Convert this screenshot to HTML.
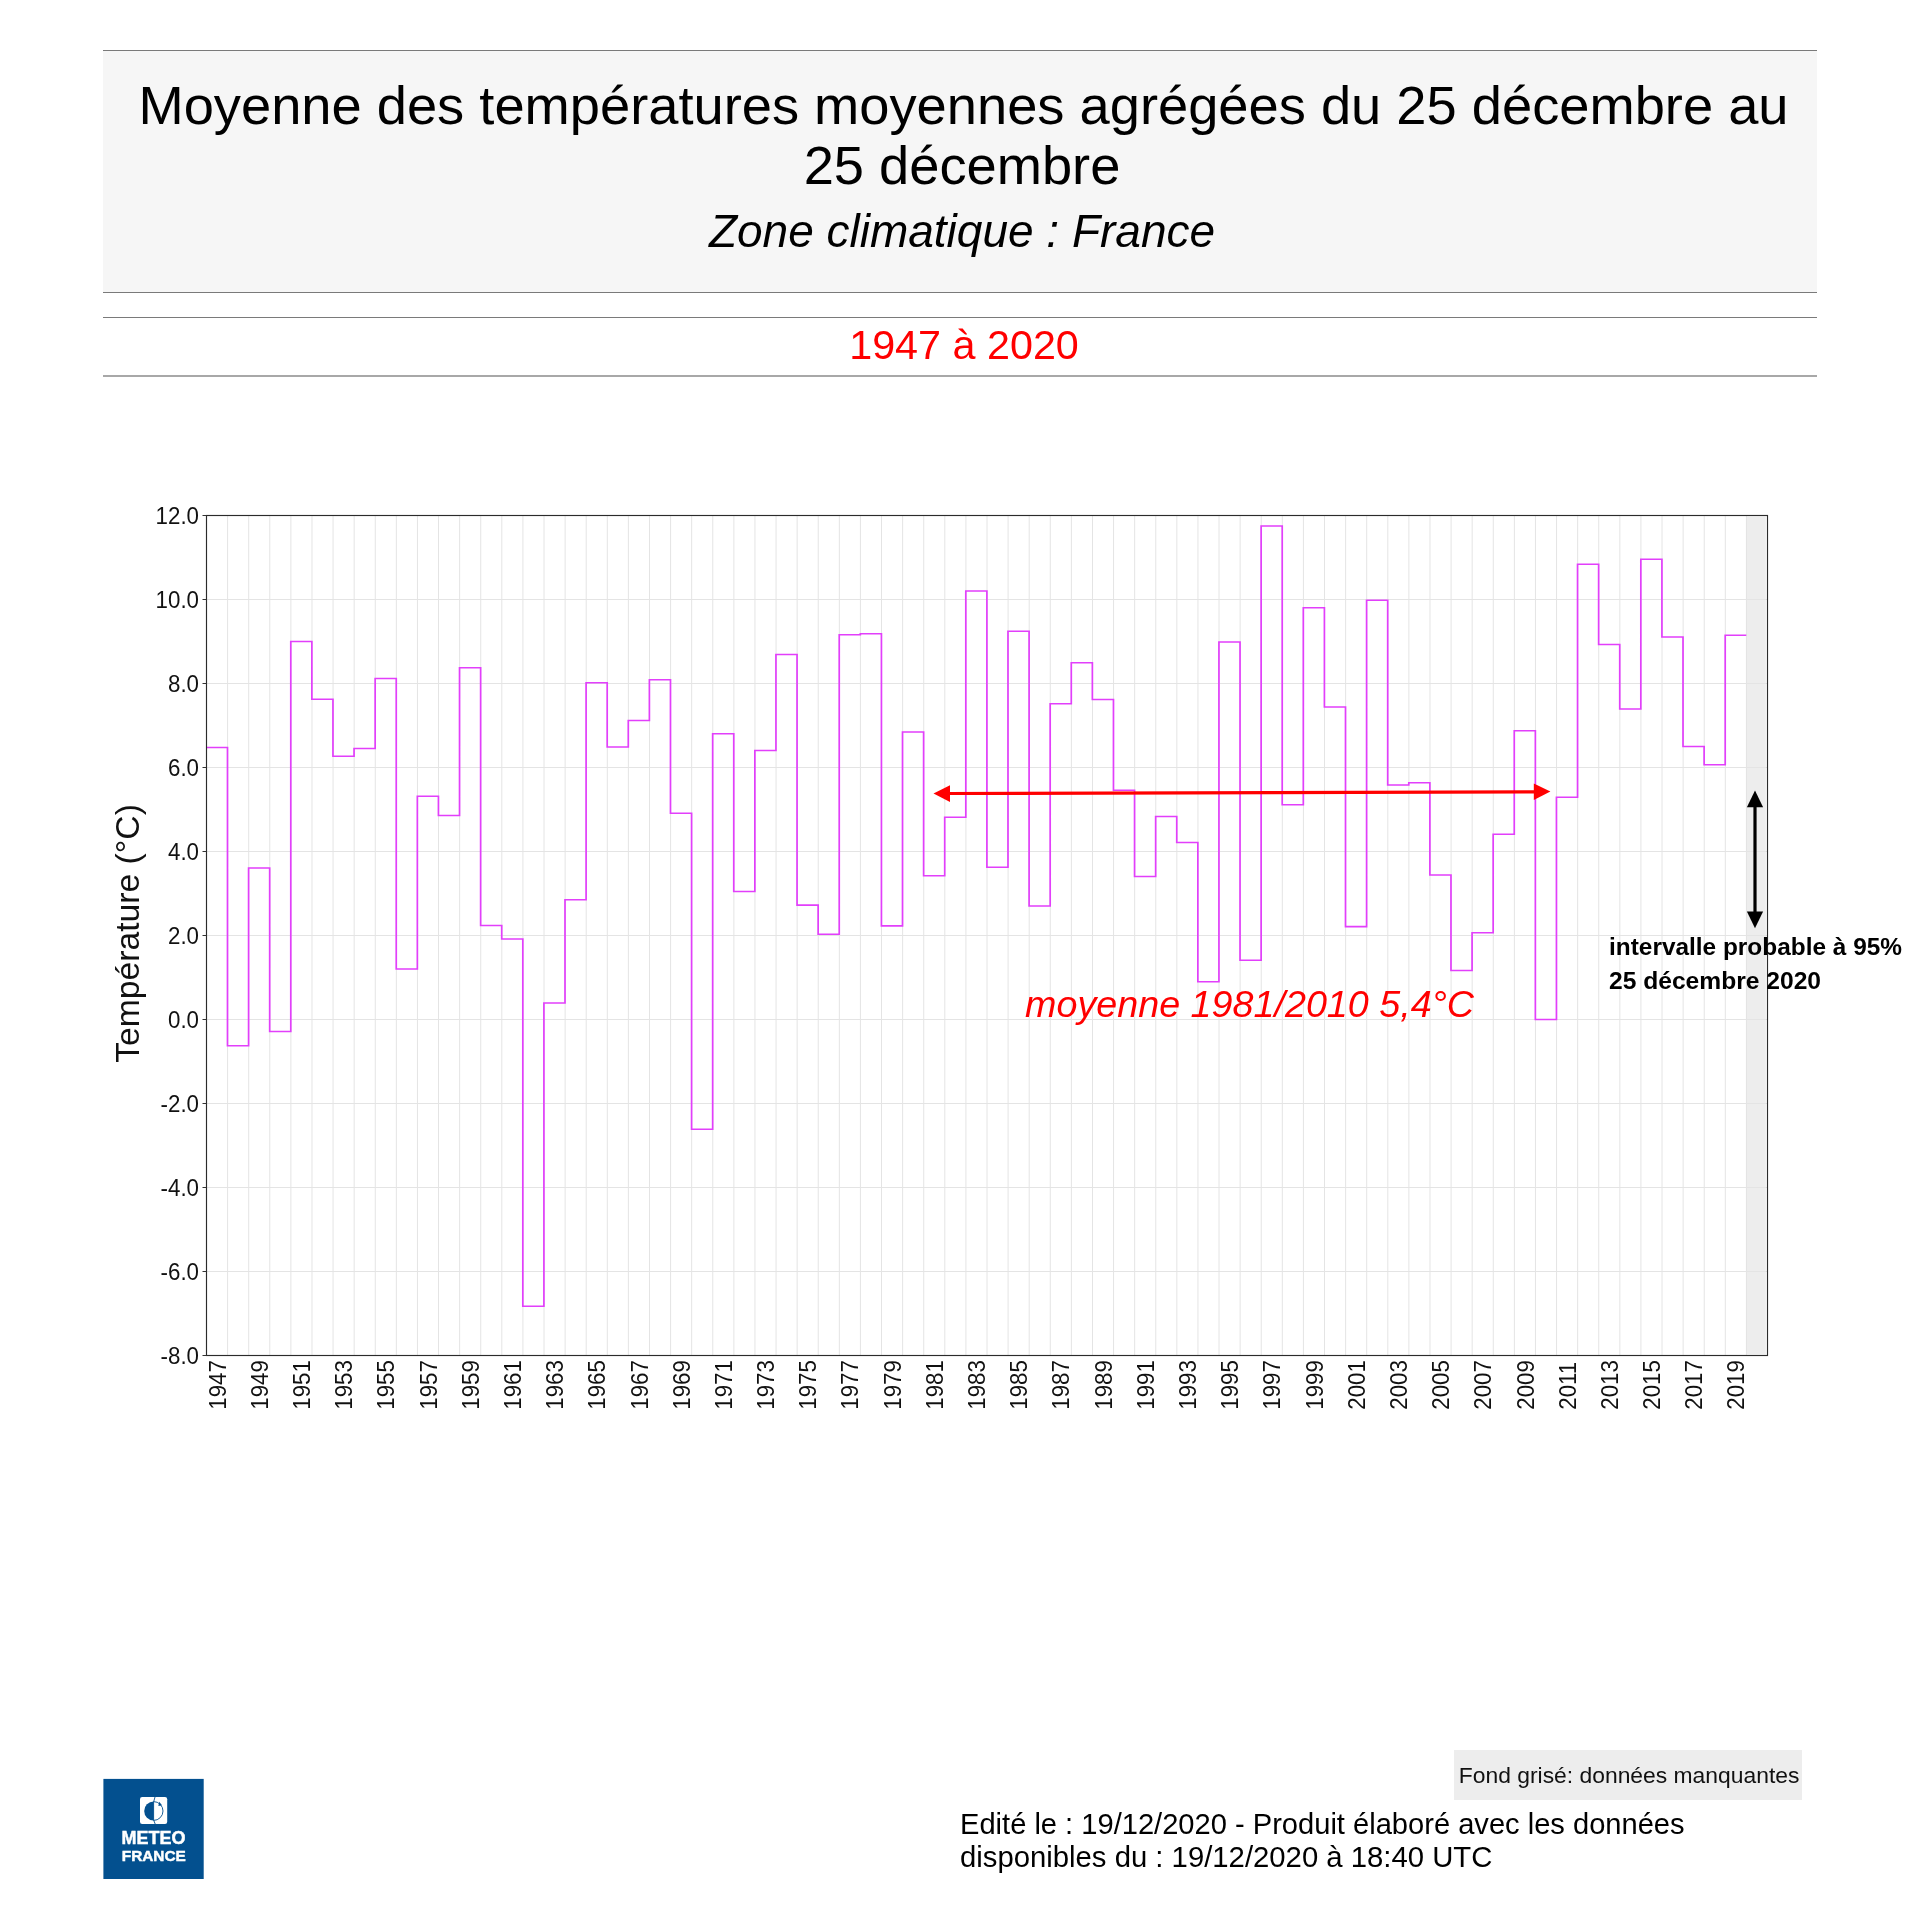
<!DOCTYPE html>
<html lang="fr"><head><meta charset="utf-8"><title>Moyenne des températures moyennes agrégées</title>
<style>
html,body{margin:0;padding:0;background:#fff;}
body{width:1920px;height:1920px;position:relative;overflow:hidden;font-family:"Liberation Sans",sans-serif;color:#000;}
.abs{position:absolute;white-space:nowrap;}
.hdr{position:absolute;left:103px;top:50px;width:1714px;height:241px;background:#f6f6f6;border-top:1px solid #7a7a7a;border-bottom:1px solid #7a7a7a;}
.t1{position:absolute;left:0;width:1714px;text-align:center;font-size:54.27px;line-height:61px;}
.sub{position:absolute;left:0;width:1714px;text-align:center;font-size:46px;font-style:italic;line-height:52px;}
.per{position:absolute;left:103px;top:317px;width:1714px;height:57px;border-top:1px solid #7a7a7a;border-bottom:2px solid #a8a8a8;}
.per div{position:absolute;left:0;width:1714px;text-align:center;color:#f00;font-size:41.3px;line-height:58px;top:-2px}
</style></head><body><div id="page" style="position:absolute;left:0;top:0;width:1920px;height:1920px;will-change:transform">
<div class="hdr">
<div class="t1" style="top:23.5px;left:3.5px">Moyenne des températures moyennes agrégées du 25 décembre au</div>
<div class="t1" style="top:84px;left:2px">25 décembre</div>
<div class="sub" style="top:154px;left:2px">Zone climatique : France</div>
</div>
<div class="per"><div style="left:4px">1947 à 2020</div></div>
<svg width="1920" height="1920" viewBox="0 0 1920 1920" style="position:absolute;left:0;top:0"><rect x="1746.1" y="516.6" width="19.7" height="837.8" fill="#ededed"/><path d="M227.59 515.5V1355.5M248.69 515.5V1355.5M269.78 515.5V1355.5M290.88 515.5V1355.5M311.97 515.5V1355.5M333.07 515.5V1355.5M354.16 515.5V1355.5M375.26 515.5V1355.5M396.35 515.5V1355.5M417.45 515.5V1355.5M438.54 515.5V1355.5M459.64 515.5V1355.5M480.73 515.5V1355.5M501.82 515.5V1355.5M522.92 515.5V1355.5M544.01 515.5V1355.5M565.11 515.5V1355.5M586.20 515.5V1355.5M607.30 515.5V1355.5M628.39 515.5V1355.5M649.49 515.5V1355.5M670.58 515.5V1355.5M691.68 515.5V1355.5M712.77 515.5V1355.5M733.86 515.5V1355.5M754.96 515.5V1355.5M776.05 515.5V1355.5M797.15 515.5V1355.5M818.24 515.5V1355.5M839.34 515.5V1355.5M860.43 515.5V1355.5M881.53 515.5V1355.5M902.62 515.5V1355.5M923.72 515.5V1355.5M944.81 515.5V1355.5M965.91 515.5V1355.5M987.00 515.5V1355.5M1008.09 515.5V1355.5M1029.19 515.5V1355.5M1050.28 515.5V1355.5M1071.38 515.5V1355.5M1092.47 515.5V1355.5M1113.57 515.5V1355.5M1134.66 515.5V1355.5M1155.76 515.5V1355.5M1176.85 515.5V1355.5M1197.95 515.5V1355.5M1219.04 515.5V1355.5M1240.14 515.5V1355.5M1261.23 515.5V1355.5M1282.32 515.5V1355.5M1303.42 515.5V1355.5M1324.51 515.5V1355.5M1345.61 515.5V1355.5M1366.70 515.5V1355.5M1387.80 515.5V1355.5M1408.89 515.5V1355.5M1429.99 515.5V1355.5M1451.08 515.5V1355.5M1472.18 515.5V1355.5M1493.27 515.5V1355.5M1514.36 515.5V1355.5M1535.46 515.5V1355.5M1556.55 515.5V1355.5M1577.65 515.5V1355.5M1598.74 515.5V1355.5M1619.84 515.5V1355.5M1640.93 515.5V1355.5M1662.03 515.5V1355.5M1683.12 515.5V1355.5M1704.22 515.5V1355.5M1725.31 515.5V1355.5M1746.41 515.5V1355.5M206.5 1271.50H1767.5M206.5 1187.50H1767.5M206.5 1103.50H1767.5M206.5 1019.50H1767.5M206.5 935.50H1767.5M206.5 851.50H1767.5M206.5 767.50H1767.5M206.5 683.50H1767.5M206.5 599.50H1767.5" stroke="#e4e4e4" stroke-width="1" fill="none"/><path d="M206.50 747.51H227.49V1045.75H248.59V868.01H269.68V1031.51H290.78V641.50H311.87V699.25H332.97V756.24H354.06V748.52H375.16V678.50H396.25V969.02H417.35V796.27H438.44V815.51H459.54V667.75H480.63V925.50H501.72V938.99H522.82V1306.23H543.91V1002.99H565.01V899.76H586.10V682.74H607.20V747.00H628.29V720.50H649.39V679.76H670.48V813.24H691.58V1129.25H712.67V733.73H733.76V891.48H754.86V750.49H775.95V654.52H797.05V905.13H818.14V934.24H839.24V634.74H860.33V633.73H881.43V925.88H902.52V732.01H923.62V875.73H944.71V817.27H965.81V591.02H986.90V867.25H1007.99V631.25H1029.09V906.02H1050.18V703.74H1071.28V662.75H1092.37V699.50H1113.47V790.26H1134.56V876.49H1155.66V816.51H1176.75V842.51H1197.85V981.74H1218.94V642.00H1240.04V960.24H1261.13V526.00H1282.22V804.75H1303.32V607.73H1324.41V707.02H1345.51V926.64H1366.60V600.26H1387.70V785.01H1408.79V782.75H1429.89V875.02H1450.98V970.49H1472.08V932.77H1493.17V834.24H1514.26V730.75H1535.36V1019.50H1556.45V797.24H1577.55V564.26H1598.64V644.48H1619.74V708.99H1640.83V559.26H1661.93V637.01H1683.02V746.50H1704.12V764.77H1725.21V635.24H1746.31" stroke="#e23ffb" stroke-width="1.7" fill="none" stroke-linejoin="miter"/><rect x="206.5" y="515.5" width="1561.0" height="840.0" fill="none" stroke="#2b2b2b" stroke-width="1.15"/><path d="M202.5 1355.50H206.5M202.5 1271.50H206.5M202.5 1187.50H206.5M202.5 1103.50H206.5M202.5 1019.50H206.5M202.5 935.50H206.5M202.5 851.50H206.5M202.5 767.50H206.5M202.5 683.50H206.5M202.5 599.50H206.5M202.5 515.50H206.5" stroke="#333" stroke-width="1" fill="none"/><text transform="translate(199,1363.90) scale(0.93,1)" text-anchor="end" font-family="Liberation Sans, sans-serif" font-size="24" fill="#111">-8.0</text><text transform="translate(199,1279.90) scale(0.93,1)" text-anchor="end" font-family="Liberation Sans, sans-serif" font-size="24" fill="#111">-6.0</text><text transform="translate(199,1195.90) scale(0.93,1)" text-anchor="end" font-family="Liberation Sans, sans-serif" font-size="24" fill="#111">-4.0</text><text transform="translate(199,1111.90) scale(0.93,1)" text-anchor="end" font-family="Liberation Sans, sans-serif" font-size="24" fill="#111">-2.0</text><text transform="translate(199,1027.90) scale(0.93,1)" text-anchor="end" font-family="Liberation Sans, sans-serif" font-size="24" fill="#111">0.0</text><text transform="translate(199,943.90) scale(0.93,1)" text-anchor="end" font-family="Liberation Sans, sans-serif" font-size="24" fill="#111">2.0</text><text transform="translate(199,859.90) scale(0.93,1)" text-anchor="end" font-family="Liberation Sans, sans-serif" font-size="24" fill="#111">4.0</text><text transform="translate(199,775.90) scale(0.93,1)" text-anchor="end" font-family="Liberation Sans, sans-serif" font-size="24" fill="#111">6.0</text><text transform="translate(199,691.90) scale(0.93,1)" text-anchor="end" font-family="Liberation Sans, sans-serif" font-size="24" fill="#111">8.0</text><text transform="translate(199,607.90) scale(0.93,1)" text-anchor="end" font-family="Liberation Sans, sans-serif" font-size="24" fill="#111">10.0</text><text transform="translate(199,523.90) scale(0.93,1)" text-anchor="end" font-family="Liberation Sans, sans-serif" font-size="24" fill="#111">12.0</text><text transform="translate(225.65,1409.7) rotate(-90) scale(0.93,1)" font-family="Liberation Sans, sans-serif" font-size="24" fill="#111">1947</text><text transform="translate(267.84,1409.7) rotate(-90) scale(0.93,1)" font-family="Liberation Sans, sans-serif" font-size="24" fill="#111">1949</text><text transform="translate(310.03,1409.7) rotate(-90) scale(0.93,1)" font-family="Liberation Sans, sans-serif" font-size="24" fill="#111">1951</text><text transform="translate(352.21,1409.7) rotate(-90) scale(0.93,1)" font-family="Liberation Sans, sans-serif" font-size="24" fill="#111">1953</text><text transform="translate(394.40,1409.7) rotate(-90) scale(0.93,1)" font-family="Liberation Sans, sans-serif" font-size="24" fill="#111">1955</text><text transform="translate(436.59,1409.7) rotate(-90) scale(0.93,1)" font-family="Liberation Sans, sans-serif" font-size="24" fill="#111">1957</text><text transform="translate(478.78,1409.7) rotate(-90) scale(0.93,1)" font-family="Liberation Sans, sans-serif" font-size="24" fill="#111">1959</text><text transform="translate(520.97,1409.7) rotate(-90) scale(0.93,1)" font-family="Liberation Sans, sans-serif" font-size="24" fill="#111">1961</text><text transform="translate(563.16,1409.7) rotate(-90) scale(0.93,1)" font-family="Liberation Sans, sans-serif" font-size="24" fill="#111">1963</text><text transform="translate(605.35,1409.7) rotate(-90) scale(0.93,1)" font-family="Liberation Sans, sans-serif" font-size="24" fill="#111">1965</text><text transform="translate(647.54,1409.7) rotate(-90) scale(0.93,1)" font-family="Liberation Sans, sans-serif" font-size="24" fill="#111">1967</text><text transform="translate(689.73,1409.7) rotate(-90) scale(0.93,1)" font-family="Liberation Sans, sans-serif" font-size="24" fill="#111">1969</text><text transform="translate(731.92,1409.7) rotate(-90) scale(0.93,1)" font-family="Liberation Sans, sans-serif" font-size="24" fill="#111">1971</text><text transform="translate(774.11,1409.7) rotate(-90) scale(0.93,1)" font-family="Liberation Sans, sans-serif" font-size="24" fill="#111">1973</text><text transform="translate(816.30,1409.7) rotate(-90) scale(0.93,1)" font-family="Liberation Sans, sans-serif" font-size="24" fill="#111">1975</text><text transform="translate(858.49,1409.7) rotate(-90) scale(0.93,1)" font-family="Liberation Sans, sans-serif" font-size="24" fill="#111">1977</text><text transform="translate(900.67,1409.7) rotate(-90) scale(0.93,1)" font-family="Liberation Sans, sans-serif" font-size="24" fill="#111">1979</text><text transform="translate(942.86,1409.7) rotate(-90) scale(0.93,1)" font-family="Liberation Sans, sans-serif" font-size="24" fill="#111">1981</text><text transform="translate(985.05,1409.7) rotate(-90) scale(0.93,1)" font-family="Liberation Sans, sans-serif" font-size="24" fill="#111">1983</text><text transform="translate(1027.24,1409.7) rotate(-90) scale(0.93,1)" font-family="Liberation Sans, sans-serif" font-size="24" fill="#111">1985</text><text transform="translate(1069.43,1409.7) rotate(-90) scale(0.93,1)" font-family="Liberation Sans, sans-serif" font-size="24" fill="#111">1987</text><text transform="translate(1111.62,1409.7) rotate(-90) scale(0.93,1)" font-family="Liberation Sans, sans-serif" font-size="24" fill="#111">1989</text><text transform="translate(1153.81,1409.7) rotate(-90) scale(0.93,1)" font-family="Liberation Sans, sans-serif" font-size="24" fill="#111">1991</text><text transform="translate(1196.00,1409.7) rotate(-90) scale(0.93,1)" font-family="Liberation Sans, sans-serif" font-size="24" fill="#111">1993</text><text transform="translate(1238.19,1409.7) rotate(-90) scale(0.93,1)" font-family="Liberation Sans, sans-serif" font-size="24" fill="#111">1995</text><text transform="translate(1280.38,1409.7) rotate(-90) scale(0.93,1)" font-family="Liberation Sans, sans-serif" font-size="24" fill="#111">1997</text><text transform="translate(1322.57,1409.7) rotate(-90) scale(0.93,1)" font-family="Liberation Sans, sans-serif" font-size="24" fill="#111">1999</text><text transform="translate(1364.76,1409.7) rotate(-90) scale(0.93,1)" font-family="Liberation Sans, sans-serif" font-size="24" fill="#111">2001</text><text transform="translate(1406.94,1409.7) rotate(-90) scale(0.93,1)" font-family="Liberation Sans, sans-serif" font-size="24" fill="#111">2003</text><text transform="translate(1449.13,1409.7) rotate(-90) scale(0.93,1)" font-family="Liberation Sans, sans-serif" font-size="24" fill="#111">2005</text><text transform="translate(1491.32,1409.7) rotate(-90) scale(0.93,1)" font-family="Liberation Sans, sans-serif" font-size="24" fill="#111">2007</text><text transform="translate(1533.51,1409.7) rotate(-90) scale(0.93,1)" font-family="Liberation Sans, sans-serif" font-size="24" fill="#111">2009</text><text transform="translate(1575.70,1409.7) rotate(-90) scale(0.93,1)" font-family="Liberation Sans, sans-serif" font-size="24" fill="#111">2011</text><text transform="translate(1617.89,1409.7) rotate(-90) scale(0.93,1)" font-family="Liberation Sans, sans-serif" font-size="24" fill="#111">2013</text><text transform="translate(1660.08,1409.7) rotate(-90) scale(0.93,1)" font-family="Liberation Sans, sans-serif" font-size="24" fill="#111">2015</text><text transform="translate(1702.27,1409.7) rotate(-90) scale(0.93,1)" font-family="Liberation Sans, sans-serif" font-size="24" fill="#111">2017</text><text transform="translate(1744.46,1409.7) rotate(-90) scale(0.93,1)" font-family="Liberation Sans, sans-serif" font-size="24" fill="#111">2019</text><text transform="translate(139.2,933.5) rotate(-90)" text-anchor="middle" font-family="Liberation Sans, sans-serif" font-size="33.7" fill="#111">Température (°C)</text><path d="M948 793.5L1535 791.9" stroke="#f00" stroke-width="3.2" fill="none"/><path d="M933.5 793.6L950 785.2V802Z" fill="#f00"/><path d="M1550.4 791.6L1533.8 783.5V799.9Z" fill="#f00"/><path d="M1755 805V914" stroke="#000" stroke-width="3.2" fill="none"/><path d="M1755 790.4L1746.9 807.2H1763.1Z" fill="#000"/><path d="M1755 928.2L1746.9 911.6H1763.1Z" fill="#000"/><text x="1025" y="1017" font-family="Liberation Sans, sans-serif" font-size="37" font-style="italic" fill="#f00" textLength="449" lengthAdjust="spacingAndGlyphs">moyenne 1981/2010 5,4°C</text><text x="1609" y="955" font-family="Liberation Sans, sans-serif" font-size="24" font-weight="bold" fill="#000" textLength="293" lengthAdjust="spacingAndGlyphs">intervalle probable à 95%</text><text x="1609" y="989" font-family="Liberation Sans, sans-serif" font-size="24" font-weight="bold" fill="#000" textLength="212" lengthAdjust="spacingAndGlyphs">25 décembre 2020</text></svg>
<div class="abs" style="left:1454px;top:1750px;width:348px;height:50.4px;background:#ededed"></div>
<div class="abs" style="left:1458.8px;top:1750px;font-size:22.86px;line-height:50px;color:#111">Fond grisé: données manquantes</div>
<div class="abs" style="left:960px;top:1808px;font-size:29.1px;line-height:32px;color:#000">Edité le : 19/12/2020 - Produit élaboré avec les données</div>
<div class="abs" style="left:960px;top:1841px;font-size:29.29px;line-height:32px;color:#000">disponibles du : 19/12/2020 à 18:40 UTC</div>
<svg width="100" height="100" viewBox="0 0 100 100" style="position:absolute;left:103px;top:1779px;overflow:visible">
<rect x="0.4" y="-0.1" width="100.3" height="100.1" fill="#03508f"/>
<rect x="37" y="18" width="27.2" height="27" rx="2.2" fill="#fff"/>
<path d="M50.6 22.6A9.4 9.4 0 0 0 50.6 41.4Z" fill="#03508f"/>
<path d="M50.6 22.6A9.4 9.4 0 0 1 50.6 41.4" fill="none" stroke="#03508f" stroke-width="0.9"/>
<path d="M52 18L50.6 23V41L52.2 45" fill="none" stroke="#03508f" stroke-width="0.9"/>
<path d="M56.2 22.8L59 26.2L55.4 27Z" fill="#03508f"/>
<text x="18.6" y="65.1" font-family="Liberation Sans, sans-serif" font-weight="bold" font-size="17.6" fill="#fff" stroke="#fff" stroke-width="0.45" textLength="63.9" lengthAdjust="spacingAndGlyphs">METEO</text>
<text x="18.8" y="81.9" font-family="Liberation Sans, sans-serif" font-weight="bold" font-size="15.1" fill="#fff" stroke="#fff" stroke-width="0.45" textLength="64" lengthAdjust="spacingAndGlyphs">FRANCE</text>
</svg>
</div></body></html>
